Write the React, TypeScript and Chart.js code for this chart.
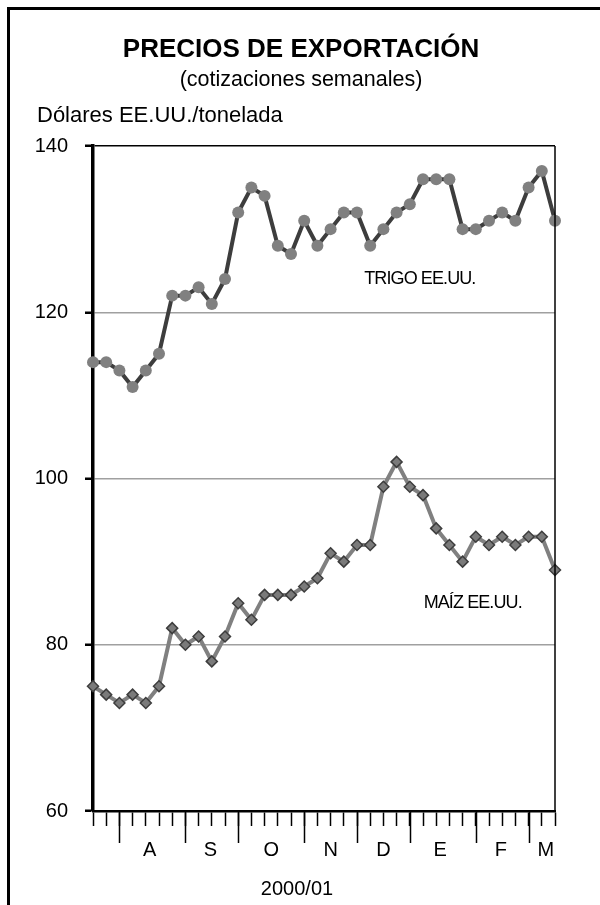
import React, { useEffect, useRef } from 'react';
import { Chart, registerables } from 'chart.js';

Chart.register(...registerables);

const TITLE = 'PRECIOS DE EXPORTACIÓN';
const SUBTITLE = '(cotizaciones semanales)';
const Y_LABEL = 'Dólares EE.UU./tonelada';
const X_LABEL = '2000/01';

const WEEKS = [
  '1', '2', '3', '4', '5', '6', '7', '8', '9', '10', '11', '12',
  '13', '14', '15', '16', '17', '18', '19', '20', '21', '22', '23', '24',
  '25', '26', '27', '28', '29', '30', '31', '32', '33', '34', '35', '36',
];

const TRIGO = [
  114, 114, 113, 111, 113, 115, 122, 122, 123, 121, 124, 132,
  135, 134, 128, 127, 131, 128, 130, 132, 132, 128, 130, 132,
  133, 136, 136, 136, 130, 130, 131, 132, 131, 135, 137, 131,
];

const MAIZ = [
  75, 74, 73, 74, 73, 75, 82, 80, 81, 78, 81, 85,
  83, 86, 86, 86, 87, 88, 91, 90, 92, 92, 99, 102,
  99, 98, 94, 92, 90, 93, 92, 93, 92, 93, 93, 89,
];

const Y_MIN = 60;
const Y_MAX = 140;
const Y_STEP = 20;

const MONTHS = ['A', 'S', 'O', 'N', 'D', 'E', 'F', 'M'];
const MONTH_BOUNDARIES = [2, 7, 11, 16, 20, 24, 29, 33];
const MONTH_LABEL_AT = [4.3, 8.9, 13.5, 18, 22, 26.3, 30.9, 34.3];

const SERIES_LABELS = ['TRIGO EE.UU.', 'MAÍZ EE.UU.'];
const SERIES_LABEL_X = [20.55, 25.05];
const SERIES_LABEL_Y = [123.4, 84.4];

const FONT = '"Liberation Sans", Arial, sans-serif';

const decorPlugin = {
  id: 'decor',
  beforeDraw(chart: any) {
    const ctx = chart.ctx;
    ctx.save();
    ctx.fillStyle = '#ffffff';
    ctx.fillRect(0, 0, chart.width, chart.height);
    ctx.restore();
  },
  afterDraw(chart: any) {
    const ctx = chart.ctx;
    const area = chart.chartArea;
    const xs = chart.scales.x;
    ctx.save();
    // frame
    ctx.strokeStyle = '#000';
    ctx.lineWidth = 3;
    ctx.beginPath();
    ctx.moveTo(8.5, chart.height + 5);
    ctx.lineTo(8.5, 8.5);
    ctx.lineTo(chart.width + 5, 8.5);
    ctx.stroke();

    // titles
    ctx.fillStyle = '#000';
    ctx.textAlign = 'center';
    ctx.textBaseline = 'alphabetic';
    ctx.font = `bold 26px ${FONT}`;
    ctx.fillText(TITLE, 301, 56.5);
    ctx.font = `21.5px ${FONT}`;
    ctx.fillText(SUBTITLE, 301, 86);
    ctx.textAlign = 'left';
    ctx.font = `22px ${FONT}`;
    ctx.fillText(Y_LABEL, 37, 121.5);

    // right border
    ctx.lineWidth = 1.5;
    ctx.beginPath();
    ctx.moveTo(area.right, area.top);
    ctx.lineTo(area.right, area.bottom);
    ctx.stroke();

    // long month ticks
    ctx.lineWidth = 1.5;
    ctx.beginPath();
    MONTH_BOUNDARIES.forEach((b) => {
      const px = Math.round(xs.getPixelForValue(b)) + 0.5;
      ctx.moveTo(px, area.bottom);
      ctx.lineTo(px, area.bottom + 32);
    });
    ctx.stroke();

    // month labels
    ctx.textAlign = 'center';
    ctx.font = `20px ${FONT}`;
    MONTHS.forEach((m, i) => {
      ctx.fillText(m, xs.getPixelForValue(MONTH_LABEL_AT[i]), 855.5);
    });
    ctx.fillText(X_LABEL, 297, 894.5);
    ctx.restore();
  },
  afterDatasetsDraw(chart: any) {
    const ctx = chart.ctx;
    const xs = chart.scales.x;
    const ys = chart.scales.y;
    ctx.save();
    ctx.fillStyle = '#000';
    ctx.textAlign = 'left';
    ctx.textBaseline = 'alphabetic';
    ctx.font = `18px ${FONT}`;
    try { (ctx as any).letterSpacing = '-0.9px'; } catch (e) {}
    SERIES_LABELS.forEach((t, i) => {
      ctx.fillText(t, xs.getPixelForValue(SERIES_LABEL_X[i]), ys.getPixelForValue(SERIES_LABEL_Y[i]));
    });
    try { (ctx as any).letterSpacing = '0px'; } catch (e) {}
    ctx.restore();
  },
};

export default function App() {
  const canvasRef = useRef<HTMLCanvasElement | null>(null);

  useEffect(() => {
    document.body.style.margin = '0';
    document.body.style.overflow = 'hidden';
    const canvas = canvasRef.current;
    if (!canvas) return;
    const chart = new Chart(canvas, {
      type: 'line',
      data: {
        labels: WEEKS,
        datasets: [
          {
            label: SERIES_LABELS[0],
            data: TRIGO,
            borderColor: '#3d3d3d',
            borderWidth: 4,
            pointStyle: 'circle',
            pointRadius: 6,
            pointBackgroundColor: '#808080',
            pointBorderColor: '#808080',
            pointBorderWidth: 0,
            tension: 0,
            clip: false,
          },
          {
            label: SERIES_LABELS[1],
            data: MAIZ,
            borderColor: '#808080',
            borderWidth: 4,
            pointStyle: 'rectRot',
            pointRadius: 5.5,
            pointBackgroundColor: '#7a7a7a',
            pointBorderColor: '#3d3d3d',
            pointBorderWidth: 1.5,
            tension: 0,
            clip: false,
          },
        ],
      },
      options: {
        animation: false,
        responsive: true,
        maintainAspectRatio: false,
        devicePixelRatio: 1,
        layout: { padding: { top: 146, right: 45, left: 0, bottom: 0 } },
        plugins: {
          legend: { display: false },
          tooltip: { enabled: false },
          title: { display: false },
        },
        scales: {
          x: {
            type: 'category',
            offset: false,
            grid: {
              display: true,
              drawOnChartArea: false,
              drawTicks: true,
              tickLength: 15,
              tickColor: '#000',
              tickWidth: 1.5,
              offset: false,
            },
            border: { display: true, color: '#000', width: 2.5 },
            ticks: { display: false },
            afterFit: (scale: any) => {
              scale.height = 94;
            },
          },
          y: {
            type: 'linear',
            min: Y_MIN,
            max: Y_MAX,
            ticks: {
              stepSize: Y_STEP,
              color: '#000',
              padding: 17,
              font: { family: FONT, size: 20 },
            },
            grid: {
              drawTicks: true,
              tickLength: 8,
              tickColor: '#000',
              tickWidth: 2.5,
              color: (c: any) => {
                const v = c.tick ? c.tick.value : null;
                if (v === Y_MAX) return '#000';
                if (v === Y_MIN) return 'rgba(0,0,0,0)';
                return '#a0a0a0';
              },
              lineWidth: 1.5,
            },
            border: { display: true, color: '#000', width: 3.5 },
            afterFit: (scale: any) => {
              scale.width = 93;
            },
          },
        },
      },
      plugins: [decorPlugin],
    });
    return () => chart.destroy();
  }, []);

  return (
    <div style={{ position: 'relative', width: '600px', height: '905px' }}>
      <canvas ref={canvasRef} />
    </div>
  );
}
